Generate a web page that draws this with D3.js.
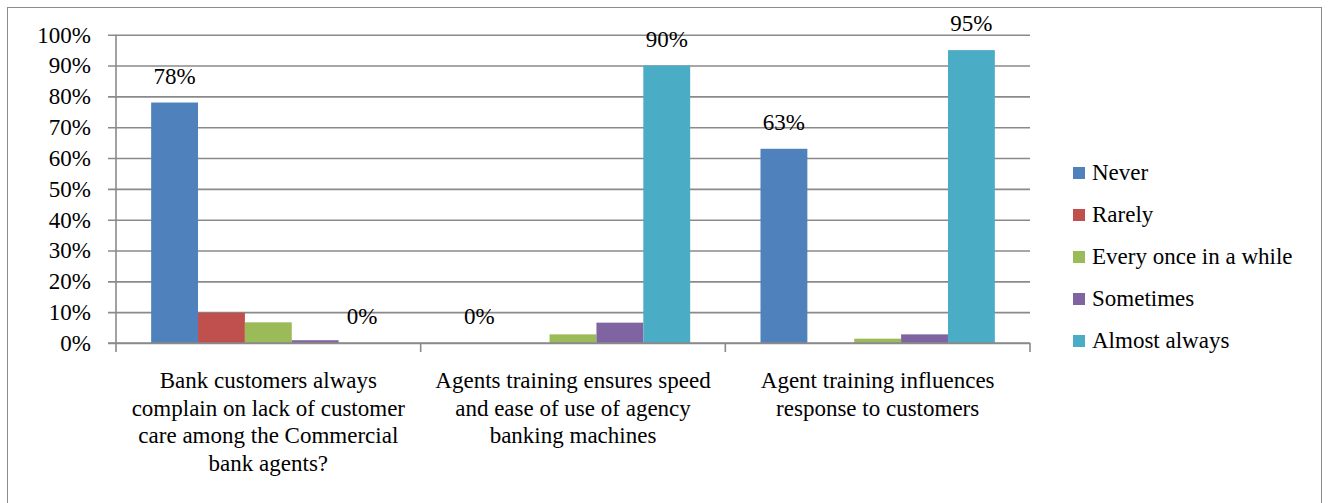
<!DOCTYPE html>
<html>
<head>
<meta charset="utf-8">
<script src="https://cdn.jsdelivr.net/npm/d3@7"></script>
<style>
  html, body { margin: 0; padding: 0; background: #fff; }
  svg { display: block; }
  svg text { font-family: "Liberation Serif" !important; }
</style>
</head>
<body>
<svg id="chart" width="1329" height="503"></svg>
<script>
// Survey questions (category axis), one wrapped label per question
const categories = [
  "Bank customers always complain on lack of customer care among the Commercial bank agents?",
  "Agents training ensures speed and ease of use of agency banking machines",
  "Agent training influences response to customers"
];
const categoryLines = [
  ["Bank customers always", "complain on lack of customer", "care among the Commercial", "bank agents?"],
  ["Agents training ensures speed", "and ease of use of agency", "banking machines"],
  ["Agent training  influences", "response to customers"]
];

// Response frequencies
const seriesNames = ["Never", "Rarely", "Every once in a while", "Sometimes", "Almost always"];
const seriesColors = ["#4F81BD", "#C0504D", "#9BBB59", "#8064A2", "#4BACC6"];

// Percentages per question, one array per response
const never        = [78, 0, 63];
const rarely       = [9.8, 0, 0];
const onceInAWhile = [6.7, 2.8, 1.4];
const sometimes    = [0.9, 6.6, 2.8];
const almostAlways = [0, 90, 95];
const seriesValues = [never, rarely, onceInAWhile, sometimes, almostAlways];

// Only these series carry value labels
const labelledSeries = ["Never", "Almost always"];

const yTicks = [0, 10, 20, 30, 40, 50, 60, 70, 80, 90, 100];

const FS = 23;
const SERIF = "Liberation Serif";
const svg = d3.select("#chart");

// Apply the serif face directly on a text selection
function serif(sel) {
  sel.style("font-family", SERIF, "important");
  return sel;
}

// Chart frame
svg.append("rect")
  .attr("x", 7.5).attr("y", 7.5)
  .attr("width", 1314).attr("height", 520)
  .attr("fill", "none").attr("stroke", "#8c8c8c").attr("stroke-width", 1);

const plot = { left: 116, right: 1030, top: 34.7, bottom: 343 };

const x0 = d3.scaleBand().domain(categories).range([plot.left, plot.right]).padding(0);
const x1 = d3.scaleBand().domain(seriesNames).range([0, x0.bandwidth()])
  .paddingInner(0).paddingOuter(0.75);
const y = d3.scaleLinear().domain([0, 100]).range([plot.bottom, plot.top]);

// Horizontal gridlines + y axis
const yAxis = d3.axisLeft(y).tickValues(yTicks).tickFormat(d => d + "%")
  .tickSize(-(plot.right - plot.left)).tickPadding(25);
const gy = svg.append("g").attr("transform", `translate(${plot.left},0)`).call(yAxis);
gy.attr("font-family", SERIF).attr("font-size", FS);
gy.select(".domain").remove();
gy.selectAll(".tick line")
  .attr("x1", -8)
  .attr("stroke", "#8a8a8a").attr("stroke-width", 1.6);
gy.selectAll(".tick text")
  .attr("fill", "#000")
  .attr("font-size", FS)
  .call(serif);

// Vertical value axis line
svg.append("line")
  .attr("x1", plot.left).attr("x2", plot.left)
  .attr("y1", plot.top).attr("y2", plot.bottom)
  .attr("stroke", "#8a8a8a").attr("stroke-width", 1.6);

// Bars
const groups = svg.append("g").selectAll("g")
  .data(categories)
  .join("g")
  .attr("transform", d => `translate(${x0(d)},0)`);

groups.selectAll("rect")
  .data((c, ci) => seriesNames.map((s, si) => ({ s, si, v: seriesValues[si][ci] })))
  .join("rect")
  .attr("x", d => x1(d.s))
  .attr("width", x1.bandwidth())
  .attr("y", d => y(d.v))
  .attr("height", d => y(0) - y(d.v))
  .attr("fill", d => seriesColors[d.si]);

// Value labels
groups.selectAll("text.val")
  .data((c, ci) => seriesNames
    .map((s, si) => ({ s, si, v: seriesValues[si][ci] }))
    .filter(d => labelledSeries.includes(d.s)))
  .join("text")
  .attr("class", "val")
  .attr("x", d => x1(d.s) + x1.bandwidth() / 2)
  .attr("y", d => y(d.v) - 19)
  .attr("text-anchor", "middle")
  .attr("font-size", FS)
  .text(d => Math.round(d.v) + "%")
  .call(serif);

// Category axis
svg.append("line")
  .attr("x1", plot.left - 8).attr("x2", plot.right)
  .attr("y1", plot.bottom).attr("y2", plot.bottom)
  .attr("stroke", "#8a8a8a").attr("stroke-width", 1.6);
const boundaries = [plot.left].concat(categories.map(c => x0(c) + x0.bandwidth()));
svg.append("g").selectAll("line")
  .data(boundaries)
  .join("line")
  .attr("x1", d => d).attr("x2", d => d)
  .attr("y1", plot.bottom).attr("y2", plot.bottom + 9)
  .attr("stroke", "#8a8a8a").attr("stroke-width", 1.6);

// Wrapped category labels
categories.forEach((c, ci) => {
  const cx = x0(c) + x0.bandwidth() / 2;
  const t = svg.append("text")
    .attr("x", cx)
    .attr("y", 388)
    .attr("text-anchor", "middle")
    .attr("font-size", FS)
    .call(serif);
  categoryLines[ci].forEach((line, li) => {
    t.append("tspan")
      .attr("x", cx)
      .attr("dy", li === 0 ? 0 : 27.7)
      .text(line);
  });
});

// Legend
const legend = svg.append("g").attr("transform", "translate(1073,173)");
const items = legend.selectAll("g")
  .data(seriesNames)
  .join("g")
  .attr("transform", (d, i) => `translate(0,${i * 42})`);
items.append("rect")
  .attr("x", 0).attr("y", -6)
  .attr("width", 12).attr("height", 12)
  .attr("fill", (d, i) => seriesColors[i]);
items.append("text")
  .attr("x", 19).attr("y", 7)
  .attr("font-size", FS)
  .text(d => d)
  .call(serif);
</script>
</body>
</html>
